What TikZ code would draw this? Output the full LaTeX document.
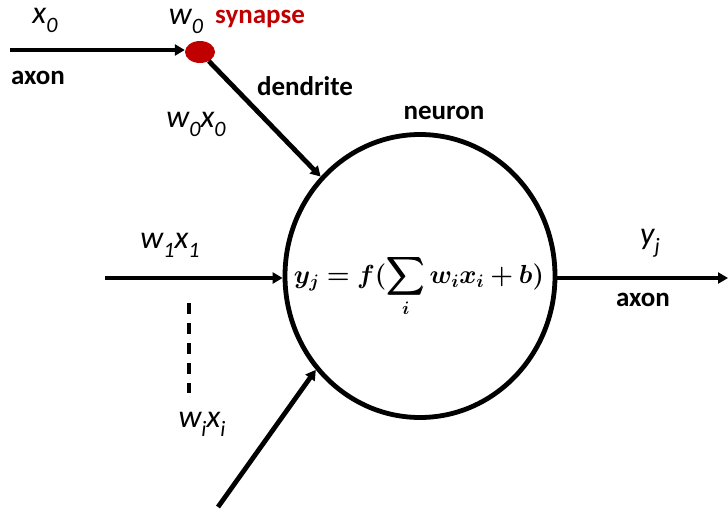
\documentclass[tikz,border=0pt]{standalone}
\usepackage{amsmath}
\usepackage{bm}
\usepackage{graphicx}
\usepackage{fontspec}
\setmainfont{Carlito}
\usetikzlibrary{arrows.meta,shapes.geometric}
\definecolor{synred}{RGB}{192,0,0}
\newcommand\vsub[1]{\raisebox{-0.28em}{\fontsize{22}{22}\selectfont #1}}
\begin{document}
\begin{tikzpicture}[x=1pt,y=-1pt,
  wire/.style={line width=4.8pt},
  arr/.style={wire,-{Triangle[length=10pt,width=11pt]}},
  lbl/.style={font=\bfseries\fontsize{27}{27}\selectfont,inner sep=0pt},
  var/.style={font=\itshape\fontsize{32}{32}\selectfont,inner sep=0pt}]
\useasboundingbox (0,0) rectangle (728,511);
% neuron body
\node[draw,line width=4.8pt,ellipse,minimum width=270pt,minimum height=283pt,inner sep=0pt] (n) at (420,276) {};
\node[inner sep=0pt] (f) at (419,286) {\resizebox{250pt}{!}{\huge$\displaystyle\bm{y_j = f(\sum_{i} w_i x_i + b)}$}};
% synapse
\node[fill=synred,ellipse,minimum width=30pt,minimum height=22pt,inner sep=0pt] (syn) at (200,52) {};
% free ends
\coordinate (a0) at (10,50);
\coordinate (a1) at (105,278);
\coordinate (a2) at (218,507);
\coordinate (d1) at (189,303);
\coordinate (d2) at (189,393);
\coordinate (out) at (728,278);
% connectors
\draw[arr] (a0) -- (syn.west |- a0);
\draw[arr] (syn) -- (n.135);
\draw[arr] (a1) -- (n.west |- a1);
\draw[arr] (a2) -- (n.222);
\draw[wire,dash pattern=on 11pt off 9pt] (d1) -- (d2);
\draw[arr] (n.east |- out) -- (out);
% labels
\node[var] (x0) at (45,20) {x\vsub{0}};
\node[var] (w0) at (186,21) {w\vsub{0}};
\node[lbl,text=synred] (synl) at (260,19) {synapse};
\node[lbl] (axon1) at (38,78) {axon};
\node[lbl] (dend) at (305,86) {dendrite};
\node[var] (w0x0) at (196,124) {w\vsub{0}x\vsub{0}};
\node[lbl] (neur) at (444,113) {neuron};
\node[var] (w1x1) at (170,245) {w\vsub{1}x\vsub{1}};
\node[var] (wixi) at (202,424) {w\vsub{i}x\vsub{i}};
\node[var] (yj) at (650,243) {y\vsub{j}};
\node[lbl] (axon2) at (643,300) {axon};
\end{tikzpicture}
\end{document}
